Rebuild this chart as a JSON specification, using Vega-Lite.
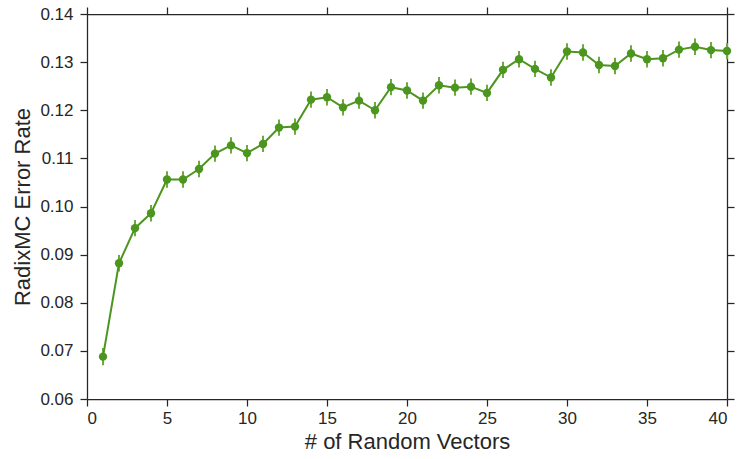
{
  "$schema": "https://vega.github.io/schema/vega-lite/v6.json",
  "width": 640,
  "height": 385,
  "autosize": "none",
  "padding": {"left": 87, "top": 14, "right": 12, "bottom": 60},
  "background": "white",
  "config": {
    "view": {"stroke": null},
    "font": "Liberation Sans",
    "axis": {
      "domainColor": "#262626",
      "domainWidth": 1.25,
      "tickColor": "#262626",
      "tickWidth": 1.25,
      "tickSize": 7,
      "grid": false,
      "labelFont": "Liberation Sans",
      "labelFontSize": 17,
      "labelColor": "#262626",
      "titleFont": "Liberation Sans",
      "titleFontSize": 22,
      "titleFontWeight": "normal",
      "titleColor": "#262626"
    }
  },
  "data": {
    "values": [
      {"n": 1, "err": 0.0688, "lo": 0.0670, "hi": 0.0706},
      {"n": 2, "err": 0.0882, "lo": 0.0865, "hi": 0.0899},
      {"n": 3, "err": 0.0955, "lo": 0.0938, "hi": 0.0972},
      {"n": 4, "err": 0.0986, "lo": 0.0969, "hi": 0.1003},
      {"n": 5, "err": 0.1056, "lo": 0.1039, "hi": 0.1073},
      {"n": 6, "err": 0.1056, "lo": 0.1039, "hi": 0.1073},
      {"n": 7, "err": 0.1078, "lo": 0.1061, "hi": 0.1095},
      {"n": 8, "err": 0.1110, "lo": 0.1093, "hi": 0.1127},
      {"n": 9, "err": 0.1127, "lo": 0.1110, "hi": 0.1144},
      {"n": 10, "err": 0.1111, "lo": 0.1094, "hi": 0.1128},
      {"n": 11, "err": 0.1130, "lo": 0.1113, "hi": 0.1147},
      {"n": 12, "err": 0.1164, "lo": 0.1147, "hi": 0.1181},
      {"n": 13, "err": 0.1166, "lo": 0.1149, "hi": 0.1183},
      {"n": 14, "err": 0.1222, "lo": 0.1205, "hi": 0.1239},
      {"n": 15, "err": 0.1227, "lo": 0.1210, "hi": 0.1244},
      {"n": 16, "err": 0.1206, "lo": 0.1189, "hi": 0.1223},
      {"n": 17, "err": 0.1220, "lo": 0.1203, "hi": 0.1237},
      {"n": 18, "err": 0.1200, "lo": 0.1183, "hi": 0.1217},
      {"n": 19, "err": 0.1248, "lo": 0.1231, "hi": 0.1265},
      {"n": 20, "err": 0.1241, "lo": 0.1224, "hi": 0.1258},
      {"n": 21, "err": 0.1220, "lo": 0.1203, "hi": 0.1237},
      {"n": 22, "err": 0.1252, "lo": 0.1235, "hi": 0.1269},
      {"n": 23, "err": 0.1247, "lo": 0.1230, "hi": 0.1264},
      {"n": 24, "err": 0.1249, "lo": 0.1232, "hi": 0.1266},
      {"n": 25, "err": 0.1236, "lo": 0.1219, "hi": 0.1253},
      {"n": 26, "err": 0.1284, "lo": 0.1267, "hi": 0.1301},
      {"n": 27, "err": 0.1306, "lo": 0.1289, "hi": 0.1323},
      {"n": 28, "err": 0.1286, "lo": 0.1269, "hi": 0.1303},
      {"n": 29, "err": 0.1268, "lo": 0.1251, "hi": 0.1285},
      {"n": 30, "err": 0.1322, "lo": 0.1305, "hi": 0.1339},
      {"n": 31, "err": 0.1320, "lo": 0.1303, "hi": 0.1337},
      {"n": 32, "err": 0.1294, "lo": 0.1277, "hi": 0.1311},
      {"n": 33, "err": 0.1292, "lo": 0.1275, "hi": 0.1309},
      {"n": 34, "err": 0.1318, "lo": 0.1301, "hi": 0.1335},
      {"n": 35, "err": 0.1306, "lo": 0.1289, "hi": 0.1323},
      {"n": 36, "err": 0.1308, "lo": 0.1291, "hi": 0.1325},
      {"n": 37, "err": 0.1326, "lo": 0.1309, "hi": 0.1343},
      {"n": 38, "err": 0.1332, "lo": 0.1315, "hi": 0.1349},
      {"n": 39, "err": 0.1325, "lo": 0.1308, "hi": 0.1342},
      {"n": 40, "err": 0.1323, "lo": 0.1306, "hi": 0.1340}
    ]
  },
  "layer": [
    {
      "mark": {"type": "rule", "color": "#6aab3c", "strokeWidth": 2},
      "encoding": {
        "x": {"field": "n", "type": "quantitative", "scale": {"domain": [0, 40], "nice": false},
              "axis": {"orient": "top", "labels": false, "title": null, "values": [0,5,10,15,20,25,30,35,40]}},
        "y": {"field": "lo", "type": "quantitative", "scale": {"domain": [0.06, 0.14], "nice": false, "zero": false},
              "axis": {"orient": "right", "labels": false, "title": null, "values": [0.06,0.07,0.08,0.09,0.10,0.11,0.12,0.13,0.14]}},
        "y2": {"field": "hi"}
      }
    },
    {
      "mark": {"type": "line", "color": "#4c951f", "strokeWidth": 2},
      "encoding": {
        "x": {"field": "n", "type": "quantitative", "scale": {"domain": [0, 40], "nice": false},
              "axis": {"title": "# of Random Vectors", "values": [0,5,10,15,20,25,30,35,40], "titlePadding": 5, "labelPadding": 4}},
        "y": {"field": "err", "type": "quantitative", "scale": {"domain": [0.06, 0.14], "nice": false, "zero": false},
              "axis": {"title": "RadixMC Error Rate", "values": [0.06,0.07,0.08,0.09,0.10,0.11,0.12,0.13,0.14], "format": ".2f", "titlePadding": 5, "labelPadding": 7}}
      }
    },
    {
      "mark": {"type": "point", "filled": true, "color": "#4c951f", "size": 70, "opacity": 1},
      "encoding": {
        "x": {"field": "n", "type": "quantitative", "scale": {"domain": [0, 40], "nice": false}, "axis": null},
        "y": {"field": "err", "type": "quantitative", "scale": {"domain": [0.06, 0.14], "nice": false, "zero": false}, "axis": null}
      }
    }
  ],
  "resolve": {"axis": {"x": "independent", "y": "independent"}}
}
